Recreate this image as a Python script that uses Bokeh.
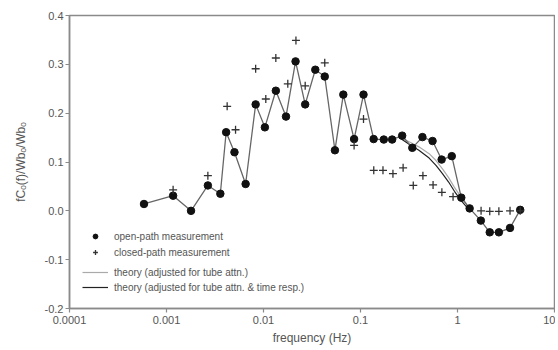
from bokeh.plotting import figure
from bokeh.models import FixedTicker, Legend, LegendItem, NumeralTickFormatter
from bokeh.embed import file_html
from bokeh.resources import INLINE

# open-path measurement
open_f = [0.000586, 0.00117, 0.00179, 0.00267, 0.00359, 0.00412, 0.00502, 0.00654,
          0.0083, 0.01033, 0.0134, 0.01706, 0.0214, 0.0269, 0.0342, 0.0428, 0.0545,
          0.0665, 0.0859, 0.1074, 0.1366, 0.1738, 0.212, 0.269, 0.342, 0.435, 0.553,
          0.686, 0.873, 1.094, 1.334, 1.74, 2.15, 2.67, 3.48, 4.43]
open_c = [0.014, 0.031, 0.000, 0.052, 0.035, 0.161, 0.120, 0.055, 0.218, 0.171, 0.246,
          0.193, 0.306, 0.218, 0.289, 0.275, 0.124, 0.238, 0.147, 0.238, 0.147, 0.146,
          0.146, 0.154, 0.129, 0.151, 0.143, 0.105, 0.112, 0.027, 0.005, -0.020, -0.044,
          -0.044, -0.035, 0.002]

# closed-path measurement
closed_f = [0.00117, 0.00267, 0.00422, 0.00515, 0.0083, 0.01056, 0.0134, 0.0178, 0.0216,
            0.0269, 0.0428, 0.0859, 0.1074, 0.137, 0.1705, 0.216, 0.275, 0.35, 0.44,
            0.56, 0.69, 0.90, 1.75, 2.15, 2.67, 3.48, 4.43]
closed_c = [0.043, 0.072, 0.214, 0.166, 0.291, 0.229, 0.313, 0.260, 0.349, 0.256, 0.303,
            0.134, 0.188, 0.083, 0.083, 0.076, 0.088, 0.052, 0.072, 0.053, 0.038, 0.029,
            0.000, -0.001, -0.001, 0.000, 0.000]

# theory curves
theory_f = [0.25, 0.32, 0.40, 0.51, 0.60, 0.70, 0.81, 0.93, 1.08, 1.24]
theory_tube = [0.152, 0.141, 0.131, 0.117, 0.103, 0.086, 0.068, 0.048, 0.029, 0.014]
theory_tube_time = [0.150, 0.136, 0.124, 0.108, 0.093, 0.076, 0.059, 0.040, 0.022, 0.008]

x_ticks = [0.0001, 0.001, 0.01, 0.1, 1, 10]
x_tick_labels = ["0.0001", "0.001", "0.01", "0.1", "1", "10"]
y_ticks = [-0.2, -0.1, 0.0, 0.1, 0.2, 0.3, 0.4]

FONT = "Liberation Sans"
AXC = "#8a8a8a"
TXT = "#555555"

p = figure(width=555, height=347, x_axis_type="log", x_range=(0.0001, 10),
           y_range=(-0.2, 0.4), output_backend="svg", toolbar_location=None,
           min_border_left=69, min_border_right=1, min_border_top=15, min_border_bottom=34)

p.xgrid.visible = False
p.ygrid.visible = False
p.outline_line_color = AXC
p.outline_line_width = 1.5

for ax in (p.xaxis[0], p.yaxis[0]):
    ax.axis_line_color = AXC
    ax.axis_line_width = 1.5
    ax.major_tick_line_color = AXC
    ax.major_tick_line_width = 1.2
    ax.major_tick_out = 4
    ax.major_tick_in = 0
    ax.minor_tick_line_color = None
    ax.major_label_text_font = FONT
    ax.major_label_text_font_size = "11px"
    ax.major_label_text_color = TXT
    ax.axis_label_text_font = FONT
    ax.axis_label_text_font_style = "normal"
    ax.axis_label_text_color = TXT

p.xaxis.ticker = FixedTicker(ticks=x_ticks)
p.xaxis.major_label_overrides = {t: l for t, l in zip(x_ticks, x_tick_labels)}
p.xaxis.major_label_standoff = 3
p.xaxis.axis_label = "frequency (Hz)"
p.xaxis.axis_label_text_font_size = "12px"
p.xaxis.axis_label_standoff = 4

p.yaxis.ticker = FixedTicker(ticks=y_ticks)
p.yaxis.formatter = NumeralTickFormatter(format="0.0")
p.yaxis.major_label_standoff = 2
p.yaxis.axis_label = "fC\u2092(f)/Wb\u2092/Wb\u2092"
p.yaxis.axis_label_text_font_size = "12px"
p.yaxis.axis_label_standoff = 14

# theory lines
r_t1 = p.line(theory_f, theory_tube, line_color="#aaaaaa", line_width=1.2)
r_t2 = p.line(theory_f, theory_tube_time, line_color="#222222", line_width=1.2)

# open path line + markers
p.line(open_f, open_c, line_color="#666666", line_width=1.3)
r_open = p.scatter(open_f, open_c, marker="circle", size=7.5, fill_color="#111111",
                   line_color="#111111")
r_closed = p.scatter(closed_f, closed_c, marker="cross", size=8, line_color="#333333",
                     line_width=1.3)

leg_kw = dict(padding=0, margin=0, border_line_color=None, background_fill_alpha=0,
              glyph_width=26, glyph_height=12, label_height=12, label_standoff=6,
              label_text_font=FONT, label_text_font_size="10px",
              label_text_color=TXT)

leg1 = Legend(items=[LegendItem(label="open-path measurement", renderers=[r_open]),
                     LegendItem(label="closed-path measurement", renderers=[r_closed])],
              location=(13, 50), spacing=4, **leg_kw)
leg2 = Legend(items=[LegendItem(label="theory (adjusted for tube attn.)", renderers=[r_t1]),
                     LegendItem(label="theory (adjusted for tube attn. & time resp.)",
                                renderers=[r_t2])],
              location=(13, 15), spacing=3, **leg_kw)
p.add_layout(leg1)
p.add_layout(leg2)

open("out.html", "w").write(file_html(p, INLINE))
